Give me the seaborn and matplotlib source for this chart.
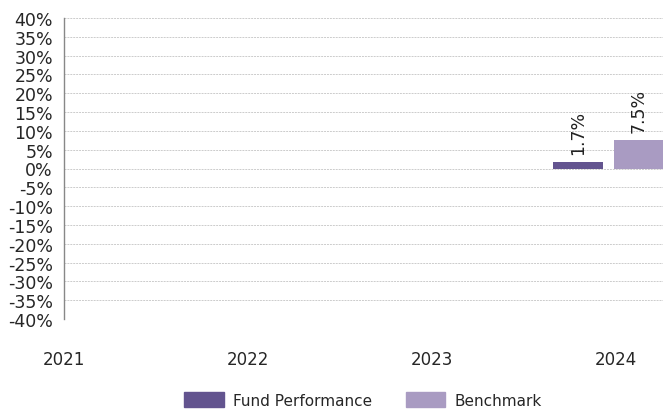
import matplotlib
matplotlib.use("Agg")
import matplotlib.pyplot as plt
import seaborn as sns
import pandas as pd

# chart data
years = ["2021", "2022", "2023", "2024"]
fund_performance = [None, None, None, 1.7]
benchmark = [None, None, None, 7.5]
series_names = ["Fund Performance", "Benchmark"]
colors = ["#63548f", "#a99bc2"]

df = pd.DataFrame({
    "year": years * 2,
    "value": fund_performance + benchmark,
    "series": [series_names[0]] * len(years) + [series_names[1]] * len(years),
})

sns.set_style("white")
fig = plt.figure(figsize=(6.63, 4.10), dpi=100)
ax = fig.add_axes([64 / 663, 1 - 320 / 410, 1 - 64 / 663, (320 - 19) / 410])

sns.barplot(data=df, x="year", y="value", hue="series", palette=colors,
            width=0.66, gap=0.18, ax=ax, legend=False, linewidth=0,
            edgecolor="none", saturation=1)

ax.set_ylim(-40, 40)
ax.set_xlim(0.04, 3.295)
# year labels sit slightly right of the bar groups
ax.set_xticks([i + 0.04 for i in range(len(years))], years)
ax.set_yticks(range(-40, 45, 5))
ax.set_yticklabels([f"{v}%" for v in range(-40, 45, 5)])
ax.tick_params(axis="y", length=0, pad=8, labelsize=12.5)
ax.tick_params(axis="x", length=0, pad=22, labelsize=12)
ax.set_xlabel("")
ax.set_ylabel("")

ax.grid(axis="y", linestyle=(0, (2, 1)), color="#cccccc", linewidth=0.7)
ax.set_axisbelow(True)
ax.yaxis.get_gridlines()[0].set_visible(False)

for s in ["top", "right", "bottom"]:
    ax.spines[s].set_visible(False)
ax.spines["left"].set_color("#888888")
ax.spines["left"].set_linewidth(1)

for cont in ax.containers:
    labels = [f"{v:.1f}%" if v == v else "" for v in cont.datavalues]
    ax.bar_label(cont, labels=labels, rotation=90, padding=6, fontsize=12.5,
                 color="#222222")

handles = [plt.Rectangle((0, 0), 1, 1, color=c) for c in colors]
fig.legend(handles, series_names, loc="center", bbox_to_anchor=(363 / 663, 1 - 401 / 410),
           ncol=2, frameon=False, fontsize=11, handlelength=2.6, handleheight=1.1,
           columnspacing=2.2, handletextpad=0.6)

fig.savefig("out.png", dpi=100)
